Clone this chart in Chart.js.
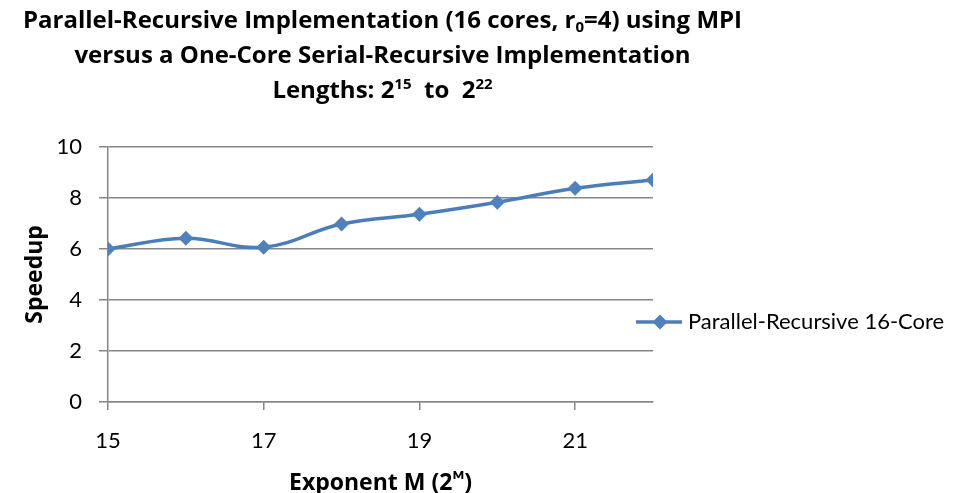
<!DOCTYPE html>
<html>
<head>
<meta charset="utf-8">
<script src="https://cdn.jsdelivr.net/npm/chart.js@4"></script>
<style>
  html, body { margin: 0; padding: 0; background: #fff; }
  #wrap { width: 973px; height: 493px; }
</style>
</head>
<body>
<div id="wrap"><canvas id="chart"></canvas></div>
<script>
// data
const exponents = [15, 16, 17, 18, 19, 20, 21, 22];
const speedup = [6.0, 6.42, 6.07, 6.98, 7.36, 7.83, 8.38, 8.71];
const xTickValues = [15, 17, 19, 21];
const seriesName = 'Parallel-Recursive 16-Core';
// title lines as [text, 'sup' | 'sub' | ''] runs
const titleLines = [
  [['Parallel-Recursive Implementation (16 cores, r', ''], ['0', 'sub'], ['=4) using MPI', '']],
  [['versus a One-Core Serial-Recursive Implementation', '']],
  [['Lengths: 2', ''], ['15', 'sup'], ['  to  2', ''], ['22', 'sup']]
];
const xTitle = 'Exponent M (2\u1d39)';
const yTitle = 'Speedup';

const FONT = 'Lato, "Open Sans", sans-serif';
const BOLD = '"Open Sans", Lato, sans-serif';
const BLUE = '#4a7ebb';
const GRID = '#878787';

// legend marker: short line with a diamond on it
const marker = document.createElement('canvas');
marker.width = 46;
marker.height = 18;
{
  const c = marker.getContext('2d');
  c.strokeStyle = BLUE;
  c.lineWidth = 3.5;
  c.beginPath(); c.moveTo(0, 9); c.lineTo(46, 9); c.stroke();
  c.fillStyle = '#4f81bd';
  c.beginPath(); c.moveTo(24, 1.5); c.lineTo(31.5, 9); c.lineTo(24, 16.5); c.lineTo(16.5, 9); c.closePath(); c.fill();
}

// excel lets the legend marker reach over the plot edge
const shiftLegend = {
  id: 'shiftLegend',
  afterLayout(chart) {
    const l = chart.legend;
    l.top += 2; l.bottom += 2;
    l.left -= 19; l.right -= 19;
  }
};

// title with real sub/superscripts, centred over the plot
const richTitle = {
  id: 'richTitle',
  afterDraw(chart) {
    const ctx = chart.ctx;
    const cx = (chart.chartArea.left + chart.chartArea.right) / 2 + 2;
    const big = 'bold 24px ' + BOLD;
    const small = 'bold 15px ' + BOLD;
    const baselines = [28, 63, 98];
    ctx.save();
    ctx.fillStyle = '#000';
    ctx.textBaseline = 'alphabetic';
    ctx.textAlign = 'left';
    titleLines.forEach((runs, i) => {
      let total = 0;
      const widths = runs.map(([t, k]) => {
        ctx.font = k ? small : big;
        const w = ctx.measureText(t).width;
        total += w;
        return w;
      });
      let x = cx - total / 2;
      runs.forEach(([t, k], j) => {
        ctx.font = k ? small : big;
        const dy = k === 'sup' ? -9 : k === 'sub' ? 4 : 0;
        ctx.fillText(t, x, baselines[i] + dy);
        x += widths[j];
      });
    });
    ctx.restore();
  }
};

new Chart(document.getElementById('chart'), {
  type: 'line',
  data: {
    datasets: [{
      label: seriesName,
      data: exponents.map((x, i) => ({ x: x, y: speedup[i] })),
      borderColor: BLUE,
      backgroundColor: '#4f81bd',
      borderWidth: 3.5,
      tension: 0.4,
      pointStyle: 'rectRot',
      pointRadius: 7.5,
      pointBorderWidth: 0,
      fill: false
    }]
  },
  options: {
    responsive: true,
    maintainAspectRatio: false,
    animation: false,
    layout: { padding: { left: 0, right: 0, top: 147, bottom: 0 } },
    plugins: {
      title: { display: false },
      legend: {
        position: 'right',
        maxWidth: 320,
        labels: {
          usePointStyle: true,
          pointStyle: marker,
          pointStyleWidth: 36,
          color: '#000',
          font: { family: FONT, size: 22 },
          padding: 7
        }
      },
      tooltip: { enabled: false }
    },
    scales: {
      x: {
        type: 'linear',
        min: 15,
        max: 22,
        afterBuildTicks: (scale) => { scale.ticks = xTickValues.map(v => ({ value: v })); },
        ticks: { color: '#000', font: { family: FONT, size: 22 }, padding: 18 },
        grid: { drawOnChartArea: false, color: GRID, lineWidth: 1.5, tickLength: 8 },
        border: { color: GRID, width: 1.5 },
        title: { display: true, text: xTitle, color: '#000', font: { family: BOLD, size: 23, weight: 'bold', lineHeight: 0.8 }, padding: { top: 2.3, bottom: 0 } }
      },
      y: {
        min: 0,
        max: 10,
        afterFit: (scale) => { scale.width = 108; },
        ticks: { stepSize: 2, color: '#000', font: { family: FONT, size: 22 }, padding: 17 },
        grid: { color: GRID, lineWidth: 1.5, tickLength: 9 },
        border: { color: GRID, width: 1.5 },
        title: { display: true, text: yTitle, color: '#000', font: { family: BOLD, size: 23, weight: 'bold', lineHeight: 1.0 }, padding: { top: 23.5, bottom: 0 } }
      }
    }
  },
  plugins: [shiftLegend, richTitle]
});
</script>
</body>
</html>
